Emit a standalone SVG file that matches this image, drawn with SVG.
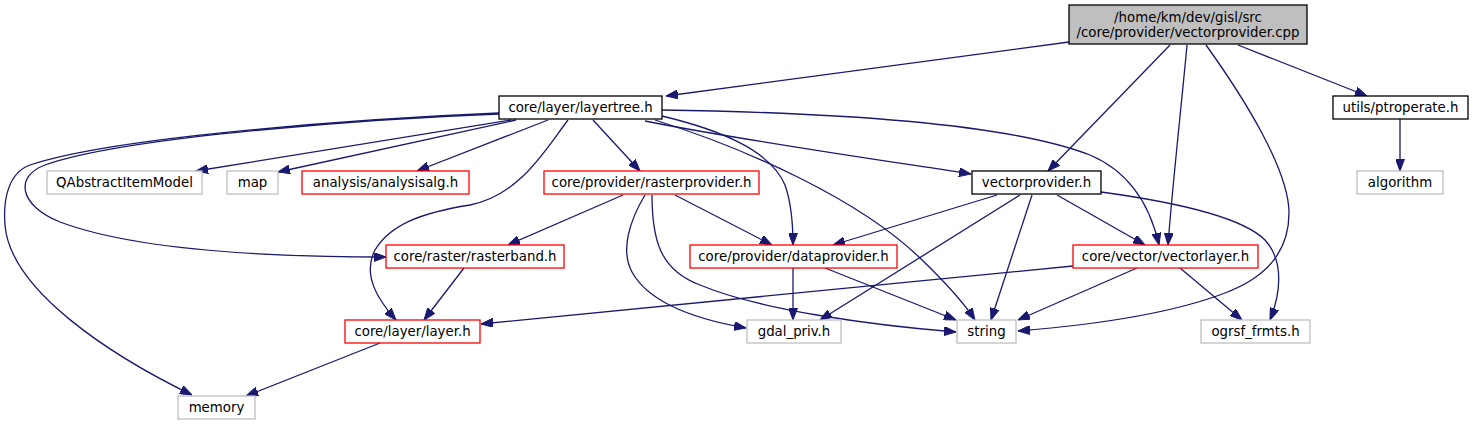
<svg xmlns="http://www.w3.org/2000/svg" width="1473" height="425" viewBox="0 0 1473 425">
<style>
.n rect{fill:#fff;stroke-width:1.3}
.blk rect{stroke:#000}
.red rect{stroke:#ff0000}
.gry rect{stroke:#bfbfbf}
.root rect{fill:#bfbfbf;stroke:#000}
text{font-family:"DejaVu Sans","Liberation Sans",sans-serif;font-size:13.33px;fill:#000;text-anchor:middle}
.e path{fill:none;stroke:#191970;stroke-width:1.3;marker-end:url(#ah)}
</style>
<defs>
<marker id="ah" viewBox="0 0 12 9" refX="12" refY="4.5" markerWidth="12" markerHeight="9" markerUnits="userSpaceOnUse" orient="auto">
<path d="M0,0 L12,4.5 L0,9 z" fill="#191970" stroke="#191970"/>
</marker>
</defs>
<rect width="1473" height="425" fill="#fff"/>
<g id="edges" class="e">
<path d="M1069,42 L666,96"/>
<path d="M1238,45 L1367,96"/>
<path d="M1170,45 L1048,171"/>
<path d="M1187,45 C1182,100 1172,190 1168,245"/>
<path d="M1206,45 C1244,98 1289,170 1289,213 C1289,257 1260,280 1225,293 C1165,316 1080,326 1018,331"/>
<path d="M511,120 L196,171"/>
<path d="M516,120 L278,172"/>
<path d="M548,120 L417,171"/>
<path d="M499,113 C380,118 120,135 30,165 C8,173 3,200 5,225 C10,290 110,355 192,395"/>
<path d="M499,114 C390,118 130,135 45,165 C15,176 18,205 60,222 C140,252 280,257 386,257"/>
<path d="M568,120 C545,150 520,195 470,205 C420,213 390,225 375,250 C362,275 378,300 396,320"/>
<path d="M593,120 L640,171"/>
<path d="M662,116 C720,130 770,150 785,185 C792,205 793,225 793,245"/>
<path d="M655,120 C750,150 860,200 920,258 C945,282 962,300 975,320"/>
<path d="M645,121 C740,140 880,160 971,174"/>
<path d="M662,110 C800,112 1000,120 1090,155 C1130,172 1150,205 1159,245"/>
<path d="M623,195 L508,245"/>
<path d="M675,195 L772,245"/>
<path d="M645,195 C630,220 620,250 632,272 C650,305 700,320 746,328"/>
<path d="M652,195 C652,240 660,270 700,285 C760,310 870,325 956,332"/>
<path d="M464,268 L424,320"/>
<path d="M997,195 L833,245"/>
<path d="M1020,195 L820,320"/>
<path d="M1032,195 L991,320"/>
<path d="M1057,195 L1145,245"/>
<path d="M1101,192 C1160,200 1240,215 1265,240 C1285,262 1280,295 1270,320"/>
<path d="M793,268 L793,320"/>
<path d="M825,268 L956,320"/>
<path d="M1073,266 L481,324"/>
<path d="M1137,268 L1018,320"/>
<path d="M1180,268 L1242,320"/>
<path d="M380,343 L246,396"/>
<path d="M1400,119 L1400,171"/>
</g>
<g id="node_root" class="n root"><rect x="1069" y="5" width="238" height="39"/><text x="1188" y="22">/home/km/dev/gisl/src</text><text x="1188" y="37">/core/provider/vectorprovider.cpp</text></g>
<g id="node_layertree" class="n blk"><rect x="499" y="96" width="163" height="23"/><text x="580.5" y="112">core/layer/layertree.h</text></g>
<g id="node_ptroperate" class="n blk"><rect x="1333" y="96" width="135" height="23"/><text x="1400.5" y="112">utils/ptroperate.h</text></g>
<g id="node_qaim" class="n gry"><rect x="47" y="171" width="155" height="23"/><text x="124.5" y="187">QAbstractItemModel</text></g>
<g id="node_map" class="n gry"><rect x="227" y="171" width="51" height="23"/><text x="252.5" y="187">map</text></g>
<g id="node_analysisalg" class="n red"><rect x="302" y="171" width="167" height="23"/><text x="385.5" y="187">analysis/analysisalg.h</text></g>
<g id="node_rasterprovider" class="n red"><rect x="544" y="171" width="215" height="23"/><text x="651.5" y="187">core/provider/rasterprovider.h</text></g>
<g id="node_vectorprovider" class="n blk"><rect x="972" y="171" width="129" height="23"/><text x="1036.5" y="187">vectorprovider.h</text></g>
<g id="node_algorithm" class="n gry"><rect x="1357" y="171" width="86" height="23"/><text x="1400" y="187">algorithm</text></g>
<g id="node_rasterband" class="n red"><rect x="386" y="245" width="178" height="23"/><text x="475" y="261">core/raster/rasterband.h</text></g>
<g id="node_dataprovider" class="n red"><rect x="690" y="245" width="207" height="23"/><text x="793.5" y="261">core/provider/dataprovider.h</text></g>
<g id="node_vectorlayer" class="n red"><rect x="1073" y="245" width="185" height="23"/><text x="1165.5" y="261">core/vector/vectorlayer.h</text></g>
<g id="node_layer" class="n red"><rect x="345" y="320" width="135" height="23"/><text x="412.5" y="336">core/layer/layer.h</text></g>
<g id="node_gdalpriv" class="n gry"><rect x="747" y="320" width="94" height="23"/><text x="794" y="336">gdal_priv.h</text></g>
<g id="node_string" class="n gry"><rect x="957" y="320" width="59" height="23"/><text x="986.5" y="336">string</text></g>
<g id="node_ogrsf" class="n gry"><rect x="1201" y="320" width="109" height="23"/><text x="1255.5" y="336">ogrsf_frmts.h</text></g>
<g id="node_memory" class="n gry"><rect x="178" y="396" width="77" height="23"/><text x="216.5" y="412">memory</text></g>
</svg>
